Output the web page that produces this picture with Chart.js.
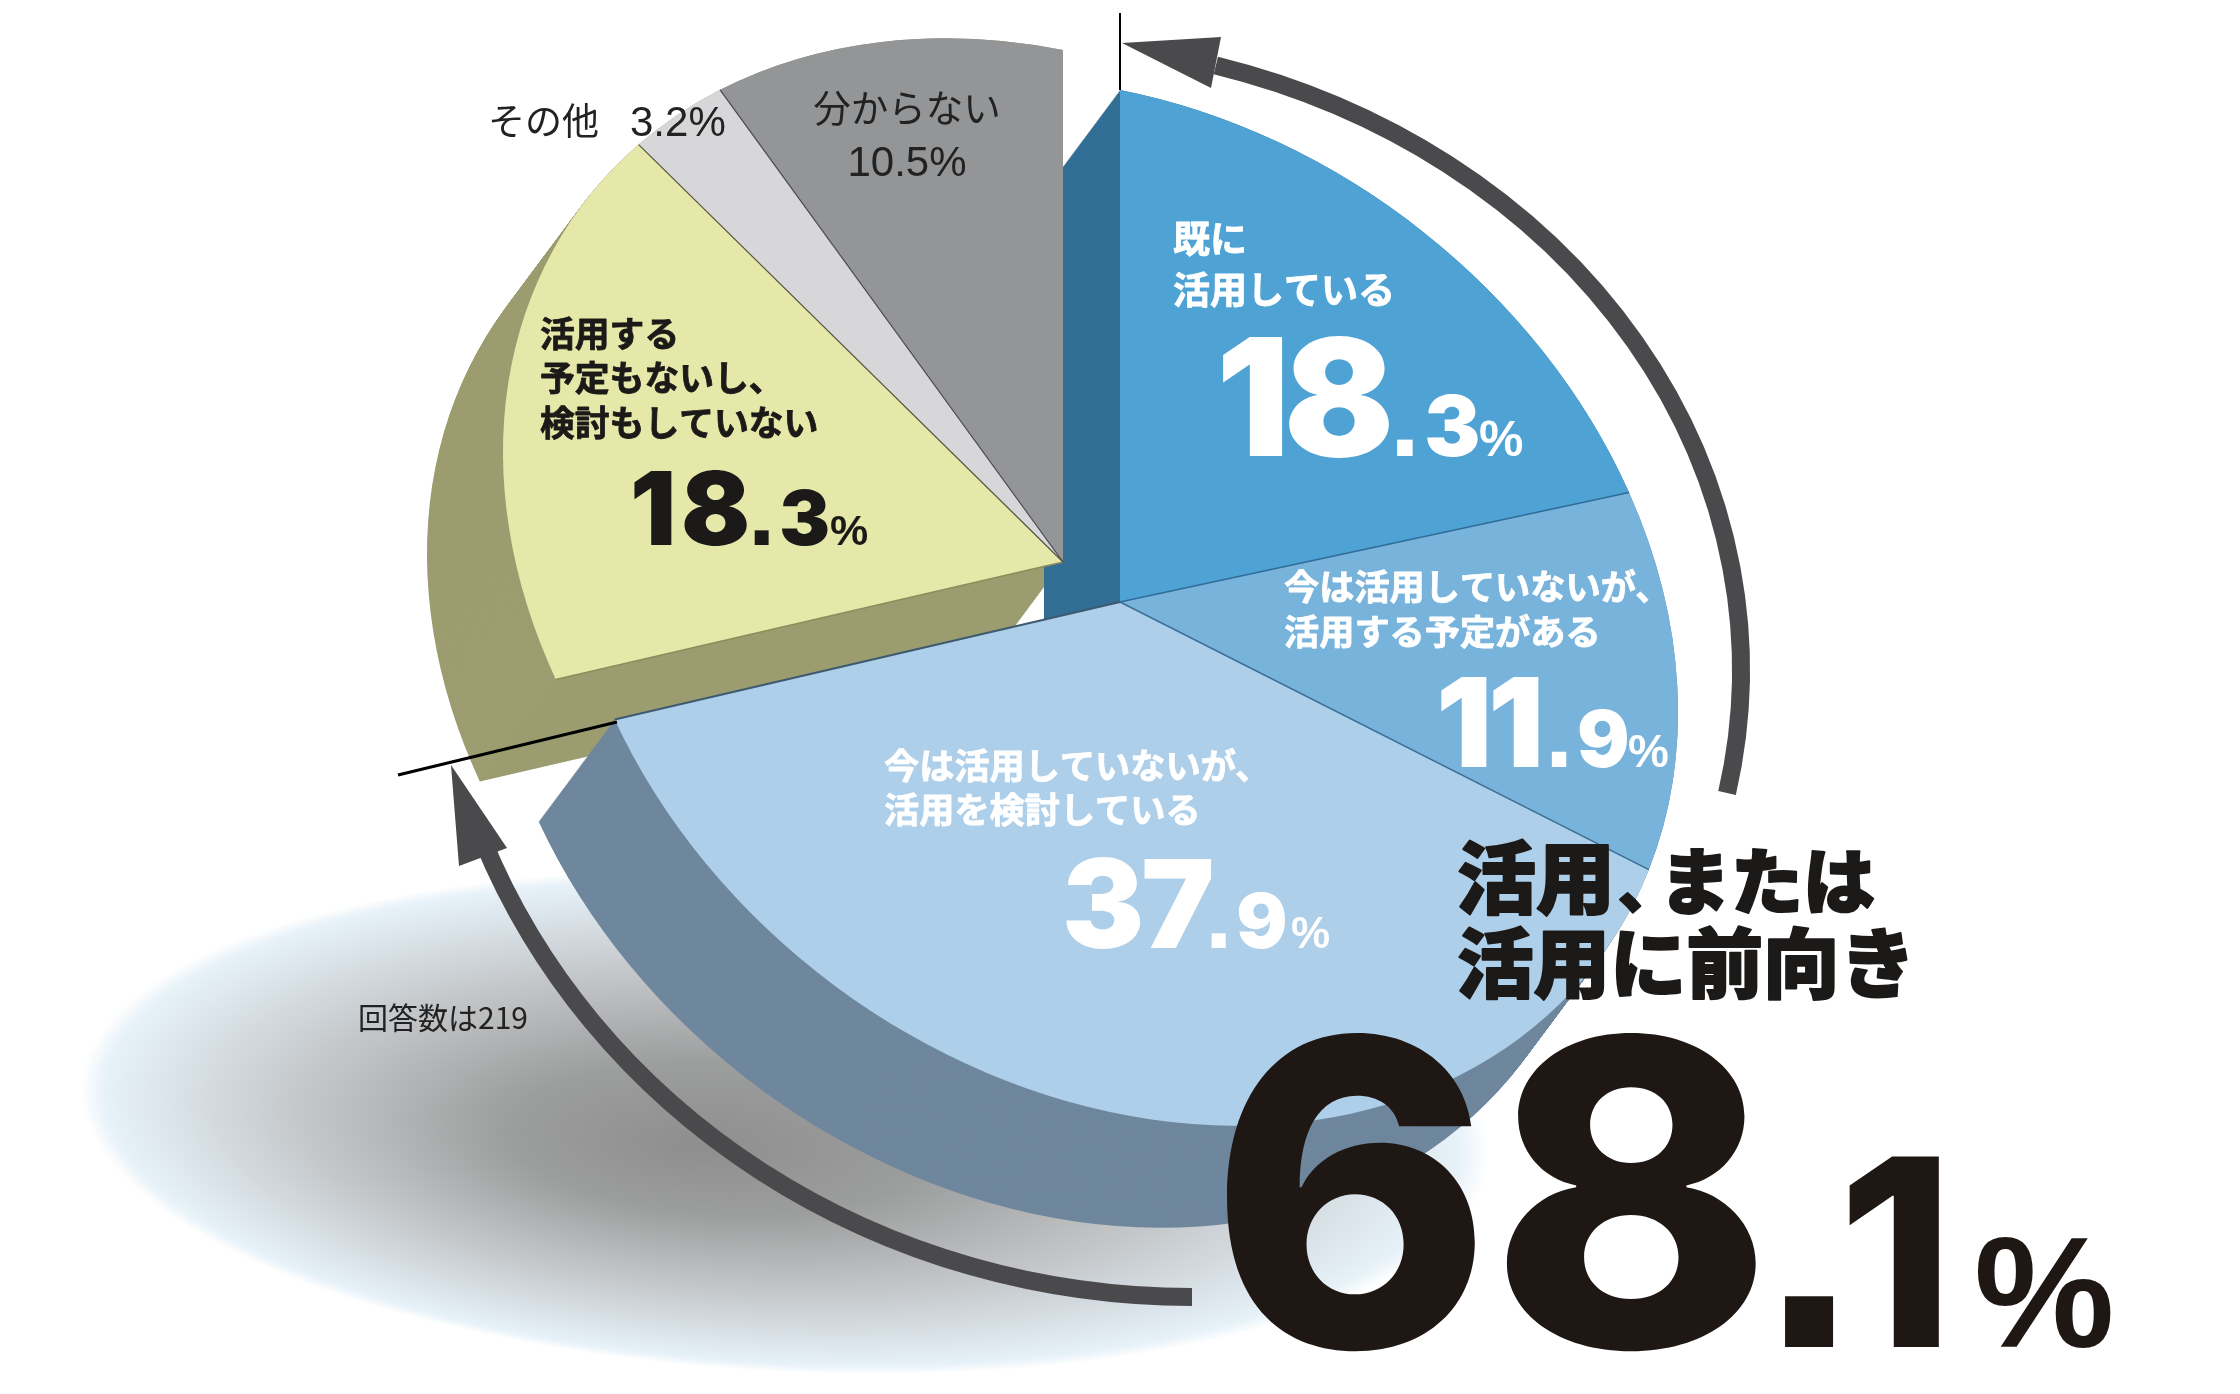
<!DOCTYPE html>
<html lang="ja">
<head>
<meta charset="utf-8">
<title>活用状況</title>
<script src="https://cdn.jsdelivr.net/npm/chart.js@4"></script>
<style>
  html, body { margin: 0; background: #fff; }
  canvas { display: block; }
</style>
</head>
<body>
<canvas id="pieChart" width="2240" height="1394"></canvas>
<script>
// データ
const categories = ['既に活用している', '今は活用していないが、活用する予定がある', '今は活用していないが、活用を検討している', '活用する予定もないし、検討もしていない', 'その他', '分からない'];
const values = [18.3, 11.9, 37.9, 18.3, 3.2, 10.5];
const topColors = ['#4ea3d4', '#78b3dc', '#aecfe9', '#e5e8a8', '#d7d7d9', '#949597'];
const sideColors = ['#336f95', '#5d8cab', '#6f879d', '#9c9d70', '#9c9d70', '#9c9d70'];
const groupTotal = '68.1';
const answerNote = '回答数は219';

const CJK = '"Noto Sans CJK JP"';
const NUM = 'Inter, "Liberation Sans"';
const PCT = '"Liberation Sans"';

// 斜めから見た円盤の変形
const mainDisc = { x: 1120, y: 602, a: 558, b: 110, d: 512 };
const leftDisc = { x: 1063, y: 562, a: 560, b: 110, d: 512 };
const depth = { x: -76, y: 102 };
const discOf = i => (i < 3 ? mainDisc : leftDisc);

function drawArc(ctx, arc, i, color, dx, dy) {
    const saved = arc.options;
    const c = discOf(i);
    const R = arc.outerRadius;
    arc.options = { ...saved, backgroundColor: color };
    ctx.save();
    ctx.translate(c.x + dx, c.y + dy);
    ctx.transform(c.a / R, c.b / R, 0, c.d / R, 0, 0);
    ctx.translate(-arc.x, -arc.y);
    arc.draw(ctx);
    ctx.restore();
    arc.options = saved;
}

function sweep(ctx, arcs, indexes) {
    const steps = 127;
    for (const i of indexes) {
        for (let k = steps; k >= 0; k--) {
            drawArc(ctx, arcs[i], i, sideColors[i], depth.x * k / steps, depth.y * k / steps);
        }
    }
}

// 半径方向の細い線
function radial(ctx, i, angle, color, width) {
    const c = discOf(i);
    const ux = Math.cos(angle), uy = Math.sin(angle);
    ctx.strokeStyle = color;
    ctx.lineWidth = width;
    ctx.beginPath();
    ctx.moveTo(c.x, c.y);
    ctx.lineTo(c.x + c.a * ux, c.y + c.b * ux + c.d * uy);
    ctx.stroke();
}

function drawShadow(ctx) {
    ctx.save();
    ctx.translate(785, 1122);
    ctx.rotate(3 * Math.PI / 180);
    ctx.scale(705, 250);
    const g = ctx.createRadialGradient(-0.13, 0.12, 0, 0, 0, 1);
    g.addColorStop(0, '#8e8e8e');
    g.addColorStop(0.3, '#9c9d9d');
    g.addColorStop(0.6, '#c0c2c4');
    g.addColorStop(0.85, '#dae3e9');
    g.addColorStop(0.96, '#e6f1f8');
    g.addColorStop(1, '#ffffff');
    ctx.fillStyle = g;
    ctx.beginPath();
    ctx.arc(0, 0, 1, 0, Math.PI * 2);
    ctx.fill();
    ctx.restore();
}

function arrow(ctx, cx, cy, rx, ry, from, to, ccw, head) {
    ctx.strokeStyle = '#4a494b';
    ctx.fillStyle = '#4a494b';
    ctx.lineWidth = 18;
    ctx.lineCap = 'butt';
    ctx.beginPath();
    ctx.ellipse(cx, cy, rx, ry, 0, from * Math.PI / 180, to * Math.PI / 180, ccw);
    ctx.stroke();
    ctx.beginPath();
    ctx.moveTo(head[0][0], head[0][1]);
    ctx.lineTo(head[1][0], head[1][1]);
    ctx.lineTo(head[2][0], head[2][1]);
    ctx.closePath();
    ctx.fill();
}

function text(ctx, str, x, y, size, weight, family, color, opts) {
    opts = opts || {};
    ctx.font = weight + ' ' + size + 'px ' + family;
    ctx.fillStyle = color;
    ctx.textAlign = opts.align || 'left';
    ctx.textBaseline = 'alphabetic';
    ctx.letterSpacing = (opts.spacing || 0) + 'px';
    ctx.fillText(str, x, y);
    if (opts.heavy) {
        ctx.strokeStyle = color;
        ctx.lineWidth = opts.heavy;
        ctx.lineJoin = 'round';
        ctx.strokeText(str, x, y);
    }
    ctx.letterSpacing = '0px';
}

// 「18.3%」のように整数・小数・%の大きさを変えて描く
function percent(ctx, value, color, bigX, smallX, pctX, baseline, bigSize, smallSize, pctSize, spacing, weight) {
    const parts = String(value).split('.');
    const w = weight || 900;
    text(ctx, parts[0], bigX, baseline, bigSize, w, NUM, color, { spacing: spacing });
    // 小数点は四角い字形
    ctx.font = w + ' ' + smallSize + 'px ' + NUM;
    const dotWidth = ctx.measureText('.').width;
    text(ctx, '.', smallX - smallSize * 0.04, baseline, smallSize * 1.3, 700, PCT, color);
    text(ctx, parts[1], smallX + dotWidth, baseline, smallSize, w, NUM, color);
    text(ctx, '%', pctX, baseline, pctSize, 700, PCT, color);
}

const piePlugin = {
    id: 'piePlugin',
    beforeDatasetsDraw(chart) {
        const ctx = chart.ctx;
        const arcs = chart.getDatasetMeta(0).data;
        drawShadow(ctx);
        sweep(ctx, arcs, [5, 4, 3]);
        sweep(ctx, arcs, [0, 1, 2]);
        arcs.forEach((arc, i) => drawArc(ctx, arc, i, topColors[i], 0, 0));

        // 区切り線
        radial(ctx, 1, arcs[1].startAngle, '#2f6d98', 1.5);
        radial(ctx, 2, arcs[2].startAngle, '#3b6f96', 1.5);
        radial(ctx, 2, arcs[2].endAngle, '#3d5a70', 2);
        radial(ctx, 3, arcs[3].startAngle, '#8d8d5c', 1.5);
        radial(ctx, 4, arcs[4].startAngle, '#55553f', 1.2);
        radial(ctx, 5, arcs[5].startAngle, '#4a4a4e', 1.2);
        return false;
    },
    afterDraw(chart) {
        const ctx = chart.ctx;
        const dark = '#1c1a18';
        const bold = { heavy: 0.8 };
        ctx.save();

        // 目盛り線
        ctx.strokeStyle = '#000';
        ctx.lineWidth = 2;
        ctx.beginPath();
        ctx.moveTo(1120, 13);
        ctx.lineTo(1120, 90);
        ctx.stroke();
        ctx.lineWidth = 3;
        ctx.beginPath();
        ctx.moveTo(398, 775);
        ctx.lineTo(617, 722);
        ctx.stroke();

        // 矢印
        arrow(ctx, 1021, 670, 720, 628, 11.3, -74.3, true, [[1122, 43], [1221, 37], [1211, 88]]);
        arrow(ctx, 1192, 584, 760, 713, 90, 159, false, [[451, 765], [459, 866], [507, 848]]);

        // 青の扇形
        text(ctx, '既に', 1173, 253, 37, 700, CJK, '#fff', bold);
        text(ctx, '活用している', 1173, 304, 37, 700, CJK, '#fff', bold);
        percent(ctx, values[0], '#fff', 1216, 1393, 1479, 456, 163, 84, 50, -6);

        text(ctx, '今は活用していないが、', 1284, 600, 35.2, 700, CJK, '#fff', bold);
        text(ctx, '活用する予定がある', 1284, 645, 35.2, 700, CJK, '#fff', bold);
        percent(ctx, values[1], '#fff', 1436, 1548, 1628, 767, 124, 78, 46, -4);

        text(ctx, '今は活用していないが、', 884, 779, 35.2, 700, CJK, '#fff', bold);
        text(ctx, '活用を検討している', 884, 823, 35.2, 700, CJK, '#fff', bold);
        percent(ctx, values[2], '#fff', 1062, 1208, 1291, 948, 123, 76, 44, -3);

        // 黄の扇形
        text(ctx, '活用する', 540, 347, 34.8, 700, CJK, dark, bold);
        text(ctx, '予定もないし、', 540, 391, 34.8, 700, CJK, dark, bold);
        text(ctx, '検討もしていない', 540, 436, 34.8, 700, CJK, dark, bold);
        percent(ctx, values[3], dark, 630, 751, 830, 545, 102, 76, 43, 5);

        // 灰の扇形
        text(ctx, 'その他', 488, 135, 37, 400, CJK, '#222');
        text(ctx, values[4] + '%', 630, 136, 42, 400, PCT, '#222');
        text(ctx, '分からない', 907, 122, 37.5, 400, CJK, '#222', { align: 'center' });
        text(ctx, values[5] + '%', 907, 176, 42, 400, PCT, '#222', { align: 'center' });

        text(ctx, answerNote, 358, 1029, 30, 400, CJK, '#222');

        // 合計
        text(ctx, '活用', 1457, 908, 79, 900, CJK, dark, { heavy: 2 });
        text(ctx, '、', 1618, 908, 60, 900, CJK, dark, { heavy: 2 });
        text(ctx, 'または', 1659, 908, 72, 900, CJK, dark, { heavy: 2 });
        text(ctx, '活用に前向き', 1457, 992, 76.5, 900, CJK, dark, { heavy: 2 });

        const total = groupTotal.split('.');
        text(ctx, total[0], 1210, 1347, 426, 800, NUM, '#1f1714', { spacing: -2 });
        text(ctx, '.', 1762, 1347, 340, 700, PCT, '#1f1714');
        text(ctx, total[1], 1838, 1347, 262, 800, NUM, '#1f1714');
        text(ctx, '%', 1974, 1347, 158, 700, PCT, '#1f1714');

        ctx.restore();
    }
};

new Chart(document.getElementById('pieChart'), {
    type: 'pie',
    data: {
        labels: categories,
        datasets: [{
            data: values,
            backgroundColor: topColors,
            borderWidth: 0
        }]
    },
    options: {
        responsive: false,
        devicePixelRatio: 1,
        animation: false,
        plugins: { legend: { display: false }, tooltip: { enabled: false } }
    },
    plugins: [piePlugin]
});
</script>
</body>
</html>
